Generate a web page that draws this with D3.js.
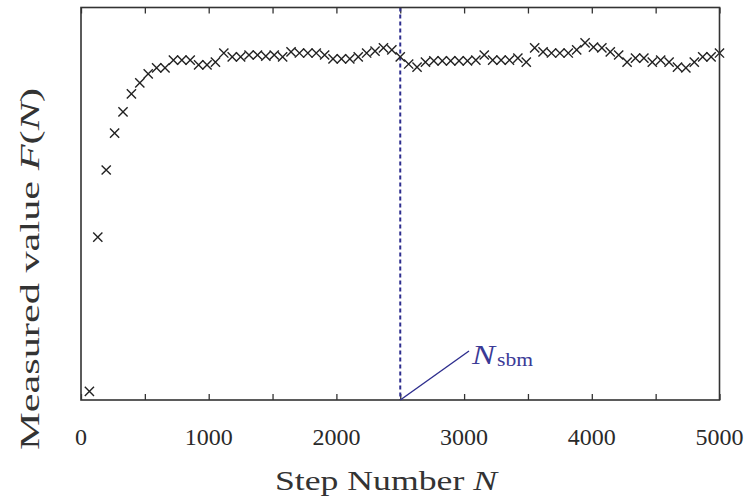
<!DOCTYPE html>
<html><head><meta charset="utf-8">
<script src="https://cdn.jsdelivr.net/npm/d3@7"></script>
<style>body{margin:0;background:#fff;} text{font-family:"Liberation Serif","DejaVu Serif",serif;}</style>
</head><body>
<svg id="chart" width="752" height="500"></svg>
<script>
// Measured value F(N) at each step (76 evenly spaced steps up to 5000)
const values = [0.022,0.415,0.586,0.680,0.734,0.780,0.808,0.831,0.846,0.846,
  0.866,0.866,0.866,0.854,0.854,0.861,0.884,0.874,0.874,0.879,
  0.879,0.876,0.879,0.874,0.887,0.884,0.884,0.884,0.879,0.869,
  0.869,0.869,0.874,0.884,0.889,0.897,0.892,0.874,0.856,0.848,
  0.861,0.864,0.864,0.864,0.864,0.864,0.866,0.879,0.866,0.866,
  0.866,0.871,0.861,0.897,0.887,0.884,0.884,0.884,0.892,0.910,
  0.899,0.897,0.887,0.879,0.861,0.871,0.871,0.861,0.866,0.861,
  0.848,0.846,0.861,0.874,0.874,0.884];
const stepMax = 5000;
const steps = values.map((v, i) => stepMax * (i + 1) / values.length);
const xTickLabels = [0, 1000, 2000, 3000, 4000, 5000];
const xTicksAll = [0,500,1000,1500,2000,2500,3000,3500,4000,4500,5000];
const sbmStep = 2500;

const svg = d3.select("#chart");
const L = 81, R = 719.5, T = 7.5, B = 400;
const x = d3.scaleLinear().domain([0, stepMax]).range([L, R]);
const y = d3.scaleLinear().domain([0, 1]).range([B, T]);

// ticks (inward) bottom and top
const bottomAxis = d3.axisBottom(x).tickValues(xTicksAll).tickSize(-6).tickFormat("");
const topAxis = d3.axisTop(x).tickValues(xTicksAll).tickSize(-6).tickFormat("");
svg.append("g").attr("transform", `translate(0,${B})`).call(bottomAxis)
  .call(g => g.select(".domain").remove())
  .selectAll("line").attr("stroke", "#333").attr("stroke-width", 1.3);
svg.append("g").attr("transform", `translate(0,${T})`).call(topAxis)
  .call(g => g.select(".domain").remove())
  .selectAll("line").attr("stroke", "#333").attr("stroke-width", 1.3);

// tick labels
svg.append("g").selectAll("text").data(xTickLabels).join("text")
  .attr("x", d => x(d)).attr("y", 445)
  .attr("text-anchor", "middle").attr("font-size", 24).attr("fill", "#2a2a2a")
  .text(d => d);

// dashed line
svg.append("line").attr("x1", x(sbmStep)).attr("x2", x(sbmStep))
  .attr("y1", T).attr("y2", B)
  .attr("stroke", "#2e2e8e").attr("stroke-width", 2).attr("stroke-dasharray", "4,3");

// markers
const s = 4.6;
const mk = svg.append("g").attr("stroke", "#222").attr("stroke-width", 1.4).attr("fill", "none");
mk.selectAll("path").data(values).join("path")
  .attr("d", (d, i) => {
    const cx = x(steps[i]), cy = y(d);
    return `M${cx - s},${cy - s}L${cx + s},${cy + s}M${cx - s},${cy + s}L${cx + s},${cy - s}`;
  });

// frame
svg.append("rect").attr("x", L).attr("y", T).attr("width", R - L).attr("height", B - T)
  .attr("fill", "none").attr("stroke", "#333").attr("stroke-width", 1.6);

// annotation
svg.append("line").attr("x1", x(sbmStep)).attr("y1", B).attr("x2", 469).attr("y2", 351)
  .attr("stroke", "#2e2e8e").attr("stroke-width", 1.4);
svg.append("text").attr("x", 472).attr("y", 364).attr("fill", "#3a3a96").attr("font-size", 28)
  .attr("font-style", "italic").attr("textLength", 23).attr("lengthAdjust", "spacingAndGlyphs").text("N");
svg.append("text").attr("x", 497).attr("y", 366).attr("fill", "#3a3a96").attr("font-size", 19)
  .attr("textLength", 36).attr("lengthAdjust", "spacingAndGlyphs").text("sbm");

// axis titles
const xt = svg.append("text").attr("x", 275).attr("y", 490)
  .attr("font-size", 27).attr("fill", "#333")
  .attr("textLength", 222).attr("lengthAdjust", "spacingAndGlyphs");
xt.append("tspan").text("Step Number ");
xt.append("tspan").attr("font-style", "italic").text("N");

const yt = svg.append("text").attr("transform", "translate(39,450) rotate(-90)")
  .attr("font-size", 27).attr("fill", "#333")
  .attr("textLength", 362).attr("lengthAdjust", "spacingAndGlyphs");
yt.append("tspan").text("Measured value ");
yt.append("tspan").attr("font-style", "italic").text("F");
yt.append("tspan").text("(");
yt.append("tspan").attr("font-style", "italic").text("N");
yt.append("tspan").text(")");
</script>
</body></html>
